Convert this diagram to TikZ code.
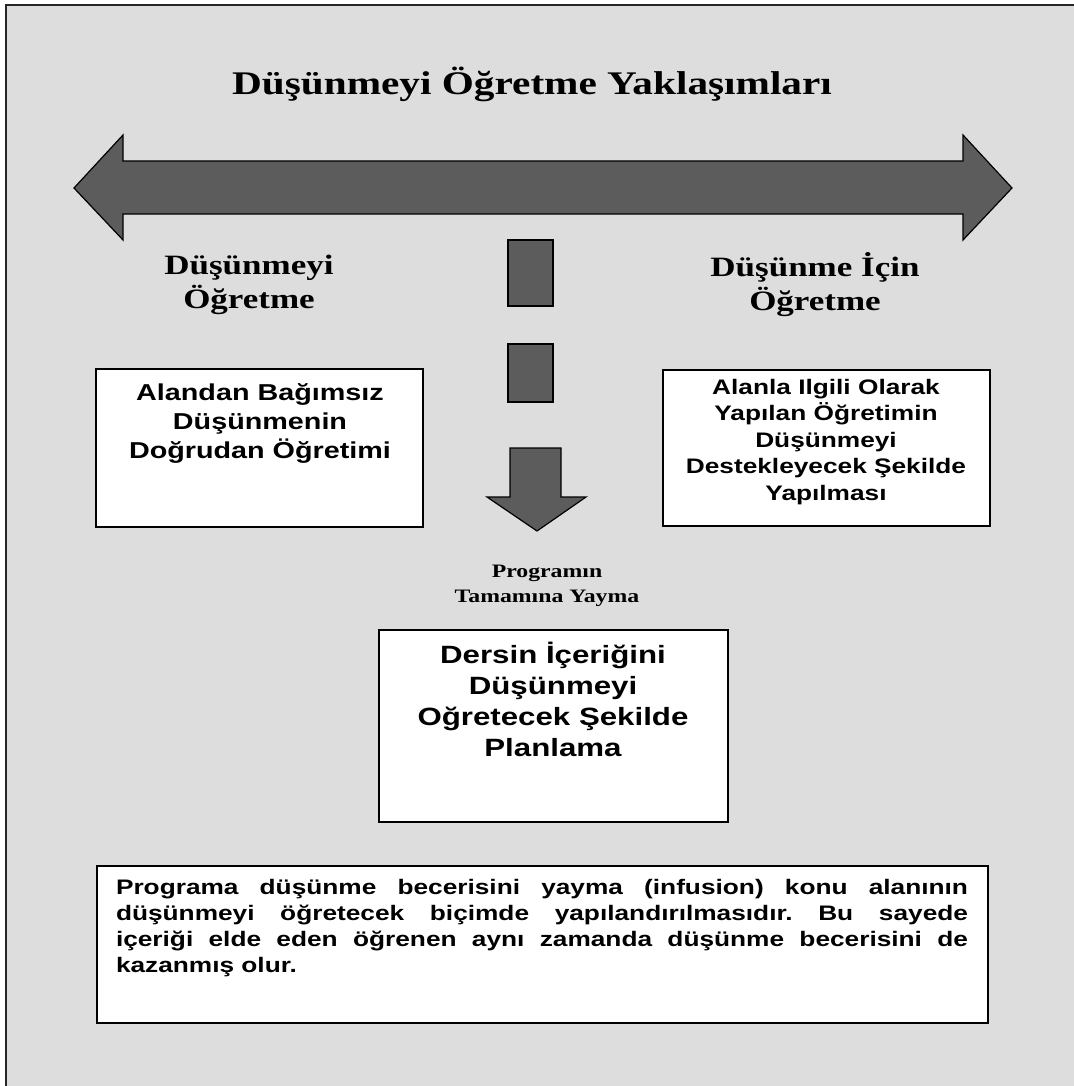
\documentclass[tikz,border=0pt]{standalone}
\usepackage{fontspec}
\setmainfont{Liberation Serif}[FakeStretch=1.25]
\setsansfont{Liberation Sans}[FakeStretch=1.25]
\usepackage{tikz}
\definecolor{panelgray}{RGB}{221,221,221}
\definecolor{shapegray}{RGB}{92,92,92}
\frenchspacing

\begin{document}
\begin{tikzpicture}[x=1pt,y=-1pt,
  whitebox/.style={draw=black,line width=1.5pt,fill=white,inner sep=0pt},
  headtext/.style={font=\rmfamily\bfseries\fontsize{28}{34}\selectfont,align=center,inner sep=0pt},
  boxtext/.style={align=center,inner sep=0pt},
  solidshape/.style={draw=black,line width=1.2pt,fill=shapegray}]
\useasboundingbox (0,0) rectangle (1073,1086);
\fill[white] (0,0) rectangle (1073,1086);
\draw[fill=panelgray,line width=2pt,draw=black!85] (6,5) rectangle (1090,1100);
% title
\node[font=\rmfamily\bfseries\fontsize{33}{40}\selectfont,anchor=base,inner sep=0pt] (title) at (532,95) {Düşünmeyi Öğretme Yaklaşımları};
% two-headed arrow
\draw[solidshape] (74,188) -- (123,135) -- (123,161) -- (963,161) -- (963,135) -- (1012,188)
  -- (963,240) -- (963,214) -- (123,214) -- (123,240) -- cycle;
\node[headtext] (leftHead) at (249,285) {Düşünmeyi\\Öğretme};
\node[headtext] (rightHead) at (815,285) {Düşünme İçin\\Öğretme};
% dashes and down arrow
\draw[solidshape] (508,240) rectangle (553,306);
\draw[solidshape] (508,344) rectangle (553,402);
\draw[solidshape] (510,448) -- (561,448) -- (561,497) -- (586,497) -- (537,531) -- (487,497) -- (510,497) -- cycle;
% side boxes
\node[whitebox,minimum width=327pt,minimum height=158pt] (directBox) at (259.5,448) {};
\node[boxtext,font=\sffamily\bfseries\fontsize{23}{29}\selectfont] (directText) at (260,423)
  {Alandan Bağımsız\\Düşünmenin\\Doğrudan Öğretimi};
\node[whitebox,minimum width=327pt,minimum height=156pt] (fieldBox) at (826.5,448) {};
\node[boxtext,font=\sffamily\bfseries\fontsize{21}{26.5}\selectfont] (fieldText) at (826,442)
  {Alanla Ilgili Olarak\\Yapılan Öğretimin\\Düşünmeyi\\Destekleyecek Şekilde\\Yapılması};
% middle
\node[headtext,font=\rmfamily\bfseries\fontsize{19}{25}\selectfont] (spreadLabel) at (547,586) {Programın\\Tamamına Yayma};
\node[whitebox,minimum width=349pt,minimum height=192pt] (planBox) at (553.5,726) {};
\node[boxtext,font=\sffamily\bfseries\fontsize{25}{31}\selectfont] (planText) at (553,699)
  {Dersin İçeriğini\\Düşünmeyi\\Oğretecek Şekilde\\Planlama};
% note
\node[whitebox,minimum width=891pt,minimum height=157pt] (noteBox) at (542.5,944.5) {};
\node[inner sep=0pt,text width=852pt,align=justify,font=\sffamily\bfseries\fontsize{21}{26}\selectfont] (noteText) at (542,928)
  {Programa düşünme becerisini yayma (infusion) konu alanının\linebreak
   düşünmeyi öğretecek biçimde yapılandırılmasıdır. Bu sayede\linebreak
   içeriği elde eden öğrenen aynı zamanda düşünme becerisini de\linebreak
   kazanmış olur.};
\end{tikzpicture}
\end{document}
